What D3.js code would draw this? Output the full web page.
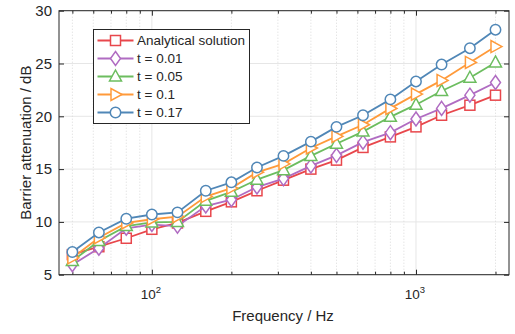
<!DOCTYPE html>
<html><head><meta charset="utf-8">
<script src="https://cdn.jsdelivr.net/npm/d3@7"></script>
<style>body{margin:0;background:#fff}svg{display:block;font-family:"Liberation Sans",Arial,sans-serif}</style>
</head><body><svg id="c" width="515" height="334"></svg>
<script>
const freqs = [50,63,80,100,125,160,200,250,315,400,500,630,800,1000,1250,1600,2000];
const analytical = [6.9,7.65,8.45,9.3,9.9,11.0,11.9,12.95,13.95,15.0,15.85,17.05,18.05,19.0,20.1,21.05,22.0];
const t001 = [5.95,7.5,9.4,9.75,9.6,11.5,12.1,13.3,14.1,15.3,16.3,17.55,18.45,19.75,20.75,22.0,23.2];
const t005 = [6.3,8.2,9.6,9.95,10.0,12.0,12.85,14.0,14.9,16.25,17.4,18.55,19.95,21.1,22.4,23.65,25.1];
const t01 = [6.6,8.5,9.9,10.25,10.5,12.4,13.2,14.7,15.5,17.0,18.1,19.2,20.75,22.1,23.4,25.1,26.6];
const t017 = [7.15,9.0,10.3,10.7,10.9,12.95,13.75,15.15,16.25,17.6,19.0,20.1,21.6,23.3,24.9,26.45,28.2];
const seriesNames = ["Analytical solution","t = 0.01","t = 0.05","t = 0.1","t = 0.17"];
const yTicks = [5,10,15,20,25,30];
const xMajor = [100,1000];
const xMinor = [50,60,70,80,90,200,300,400,500,600,700,800,900,2000];

const series = [
  {name: seriesNames[0], values: analytical, color: "#e8474c", marker: "square"},
  {name: seriesNames[1], values: t001, color: "#b06cc2", marker: "diamond"},
  {name: seriesNames[2], values: t005, color: "#6cbd5f", marker: "triUp"},
  {name: seriesNames[3], values: t01, color: "#ff9a3a", marker: "triRight"},
  {name: seriesNames[4], values: t017, color: "#5087b7", marker: "circle"}
];

const svg = d3.select("#c");
const L = 59, R = 509, T = 10.7, B = 274.7;
const x = d3.scaleLog().domain([44.5, 2250]).range([L, R]);
const y = d3.scaleLinear().domain([5, 30]).range([B, T]);
const axisCol = "#262626";

// grid
const g = svg.append("g");
g.selectAll("line.ym").data(yTicks).join("line")
  .attr("x1", L).attr("x2", R).attr("y1", d => y(d)).attr("y2", d => y(d))
  .attr("stroke", "#e6e6e6").attr("stroke-width", 1);
g.selectAll("line.xmin").data(xMinor).join("line")
  .attr("x1", d => x(d)).attr("x2", d => x(d)).attr("y1", T).attr("y2", B)
  .attr("stroke", "#d9d9d9").attr("stroke-width", 1).attr("stroke-dasharray", "1,2");
g.selectAll("line.xmaj").data(xMajor).join("line")
  .attr("x1", d => x(d)).attr("x2", d => x(d)).attr("y1", T).attr("y2", B)
  .attr("stroke", "#e6e6e6").attr("stroke-width", 1);

// axes
const ax = svg.append("g");
const bottomAxis = d3.axisBottom(x).tickValues(xMajor).tickSize(-5).tickFormat(() => "");
const bottomMinor = d3.axisBottom(x).tickValues(xMinor).tickSize(-3).tickFormat(() => "");
const topAxis = d3.axisTop(x).tickValues(xMajor).tickSize(-5).tickFormat(() => "");
const topMinor = d3.axisTop(x).tickValues(xMinor).tickSize(-3).tickFormat(() => "");
const leftAxis = d3.axisLeft(y).tickValues(yTicks).tickSize(-5).tickPadding(7).tickFormat(d3.format("d"));
const rightAxis = d3.axisRight(y).tickValues(yTicks).tickSize(-5).tickFormat(() => "");
function styleAxis(sel){ sel.select(".domain").remove(); sel.selectAll(".tick line").attr("stroke", axisCol); }
ax.append("g").attr("transform", `translate(0,${B})`).call(bottomAxis).call(styleAxis);
ax.append("g").attr("transform", `translate(0,${B})`).call(bottomMinor).call(styleAxis);
ax.append("g").attr("transform", `translate(0,${T})`).call(topAxis).call(styleAxis);
ax.append("g").attr("transform", `translate(0,${T})`).call(topMinor).call(styleAxis);
const la = ax.append("g").attr("transform", `translate(${L},0)`).call(leftAxis).call(styleAxis);
la.selectAll("text").attr("fill", axisCol).attr("font-size", 15).attr("font-family", "Liberation Sans, Arial, sans-serif");
ax.append("g").attr("transform", `translate(${R},0)`).call(rightAxis).call(styleAxis);
ax.append("rect").attr("x", L).attr("y", T).attr("width", R - L).attr("height", B - T)
  .attr("fill", "none").attr("stroke", axisCol).attr("stroke-width", 1);

// x tick labels with superscripts
xMajor.forEach(v => {
  const t = svg.append("text").attr("x", x(v) - 1).attr("y", 299).attr("text-anchor", "middle")
    .attr("fill", axisCol).attr("font-size", 13.5);
  t.append("tspan").text("10");
  t.append("tspan").attr("dy", -6).attr("font-size", 9.5).text(String(Math.round(Math.log10(v))));
});

// axis titles
svg.append("text").attr("x", 283).attr("y", 321).attr("text-anchor", "middle")
  .attr("fill", axisCol).attr("font-size", 15).text("Frequency / Hz");
svg.append("text").attr("transform", `translate(31,${(T + B) / 2}) rotate(-90)`).attr("text-anchor", "middle")
  .attr("fill", axisCol).attr("font-size", 15).text("Barrier attenuation / dB");

// marker drawing
function drawMarker(sel, type, color) {
  const sw = 1.5;
  if (type === "circle") {
    sel.append("circle").attr("r", 5.2);
  } else if (type === "square") {
    sel.append("rect").attr("x", -5).attr("y", -5).attr("width", 10).attr("height", 10);
  } else if (type === "diamond") {
    sel.append("path").attr("d", "M0,-7L5,0L0,7L-5,0Z");
  } else if (type === "triUp") {
    sel.append("path").attr("d", "M0,-6.5L6,4.5L-6,4.5Z");
  } else if (type === "triRight") {
    sel.append("path").attr("d", "M6.5,0L-4.5,-6L-4.5,6Z");
  }
  sel.selectAll("*").attr("fill", "#fff").attr("stroke", color).attr("stroke-width", sw);
}

const line = d3.line().x((d, i) => x(freqs[i])).y(d => y(d));
series.forEach(s => {
  const sg = svg.append("g");
  sg.append("path").attr("d", line(s.values)).attr("fill", "none")
    .attr("stroke", s.color).attr("stroke-width", 1.8);
  s.values.forEach((v, i) => {
    const m = sg.append("g").attr("transform", `translate(${x(freqs[i])},${y(v)})`);
    drawMarker(m, s.marker, s.color);
  });
});

// legend
const lg = svg.append("g");
lg.append("rect").attr("x", 93.5).attr("y", 29.5).attr("width", 156).attr("height", 94)
  .attr("fill", "#fff").attr("stroke", axisCol).attr("stroke-width", 1);
series.forEach((s, i) => {
  const yy = 40.5 + i * 18;
  lg.append("line").attr("x1", 97.5).attr("x2", 133.5).attr("y1", yy).attr("y2", yy)
    .attr("stroke", s.color).attr("stroke-width", 1.8);
  const m = lg.append("g").attr("transform", `translate(115.5,${yy})`);
  drawMarker(m, s.marker, s.color);
  lg.append("text").attr("x", 137).attr("y", yy + 4.8).attr("fill", axisCol)
    .attr("font-size", 13.5).text(s.name);
});
</script></body></html>
